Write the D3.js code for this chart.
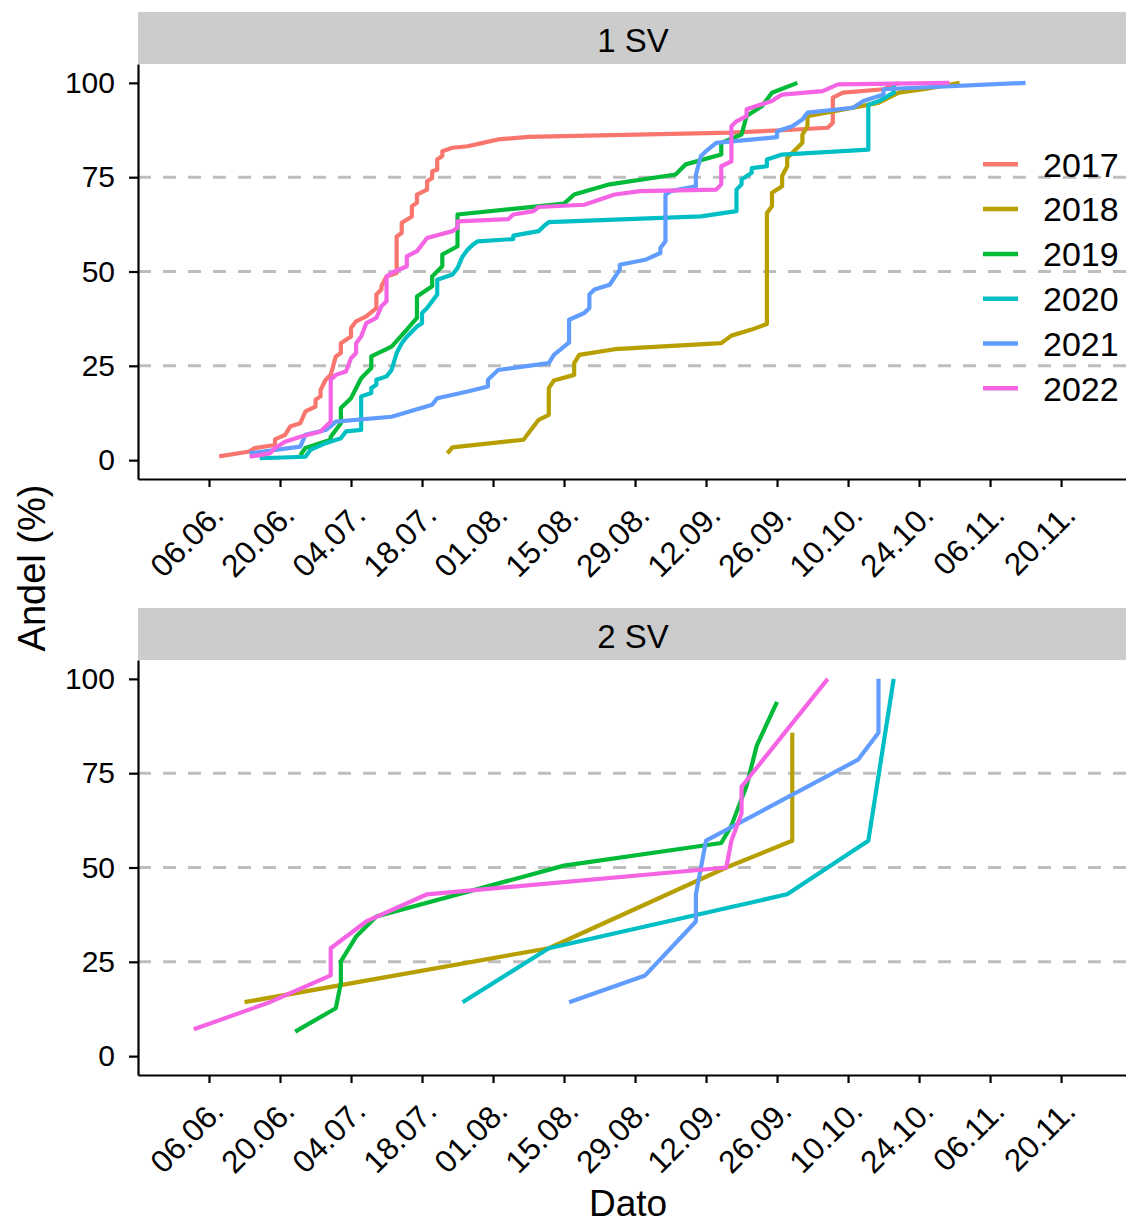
<!DOCTYPE html>
<html>
<head>
<meta charset="utf-8">
<script src="https://cdn.jsdelivr.net/npm/d3@7"></script>
<style>
  body { margin: 0; background: #fff; }
  svg { display: block; font-family: "Liberation Sans", Arial, Helvetica, sans-serif; }
</style>
</head>
<body>
<script>
// Data ---------------------------------------------------------------
const years = ['2017', '2018', '2019', '2020', '2021', '2022'];
const yearColors = ['#F8766D', '#B79F00', '#00BA38', '#00BFC4', '#619CFF', '#F564E3'];

// x ticks every 14 days from 06.06. (the last two are labelled after the DST shift)
const tickLabels = ['06.06.', '20.06.', '04.07.', '18.07.', '01.08.', '15.08.', '29.08.',
                    '12.09.', '26.09.', '10.10.', '24.10.', '06.11.', '20.11.'];
const yTicks = [0, 25, 50, 75, 100];
const gridValues = [25, 50, 75];
const facetLabels = ['1 SV', '2 SV'];

// cumulative share (%) by date, 1 SV
const sv1_2017 = [['08.06', 1.0], ['14.06', 2.3], ['15.06', 3.2], ['19.06', 4.0], ['19.06', 5.5],
  ['21.06', 6.7], ['22.06', 8.9], ['24.06', 9.8], ['25.06', 12.9], ['27.06', 14.2], ['27.06', 16.0],
  ['28.06', 16.9], ['28.06', 18.6], ['29.06', 21.3], ['30.06', 22.6], ['01.07', 27.5], ['02.07', 28.4],
  ['02.07', 31.0], ['04.07', 32.8], ['04.07', 35.0], ['05.07', 36.8], ['07.07', 38.1], ['09.07', 40.3],
  ['09.07', 43.9], ['10.07', 45.2], ['10.07', 46.1], ['11.07', 48.7], ['13.07', 49.6], ['13.07', 59.3],
  ['14.07', 60.2], ['14.07', 62.9], ['16.07', 64.6], ['16.07', 67.3], ['17.07', 68.2], ['17.07', 70.4],
  ['19.07', 71.7], ['19.07', 73.9], ['20.07', 74.8], ['20.07', 76.6], ['21.07', 77.0], ['21.07', 79.7],
  ['22.07', 80.6], ['22.07', 81.9], ['24.07', 82.8], ['27.07', 83.2], ['30.07', 84.1], ['02.08', 85.0],
  ['08.08', 85.7], ['17.09', 86.8], ['28.09', 87.5], ['06.10', 88.1], ['07.10', 89.4], ['07.10', 96.1],
  ['09.10', 97.4], ['17.10', 98.3], ['20.10', 100]];

const sv1_2018 = [['23.07', 1.8], ['24.07', 3.4], ['07.08', 5.4], ['10.08', 10.7], ['12.08', 12.0],
  ['12.08', 19.1], ['13.08', 21.1], ['17.08', 22.6], ['17.08', 25.7], ['18.08', 27.9], ['25.08', 29.4],
  ['15.09', 31.0], ['17.09', 33.0], ['21.09', 34.6], ['24.09', 36.1], ['24.09', 65.5], ['25.09', 67.3],
  ['25.09', 70.9], ['27.09', 72.6], ['27.09', 75.3], ['28.09', 77.9], ['28.09', 80.1], ['01.10', 84.1],
  ['01.10', 86.3], ['02.10', 88.5], ['02.10', 91.2], ['16.10', 94.7], ['20.10', 97.4], ['25.10', 98.3],
  ['01.11', 100]];

const sv1_2019 = [['24.06', 1.3], ['25.06', 3.2], ['30.06', 5.4], ['30.06', 6.2], ['02.07', 9.8],
  ['02.07', 13.8], ['04.07', 16.4], ['06.07', 21.7], ['08.07', 24.4], ['08.07', 27.5], ['12.07', 30.1],
  ['15.07', 34.6], ['17.07', 37.7], ['17.07', 43.4], ['20.07', 46.1], ['20.07', 48.7], ['22.07', 51.4],
  ['22.07', 54.5], ['25.07', 56.7], ['25.07', 65.1], ['15.08', 68.0], ['17.08', 70.4], ['24.08', 73.1],
  ['06.09', 75.7], ['08.09', 78.4], ['15.09', 81.0], ['15.09', 84.1], ['19.09', 86.3], ['20.09', 91.2],
  ['23.09', 93.8], ['25.09', 97.4], ['30.09', 100]];

const sv1_2020 = [['16.06', 0.5], ['25.06', 0.9], ['26.06', 2.7], ['29.06', 4.5], ['02.07', 5.8],
  ['03.07', 7.6], ['06.07', 8.0], ['06.07', 16.9], ['08.07', 17.8], ['08.07', 19.1], ['09.07', 20.0],
  ['09.07', 21.3], ['11.07', 22.2], ['12.07', 23.9], ['13.07', 28.4], ['14.07', 31.0], ['15.07', 32.7],
  ['17.07', 35.4], ['18.07', 36.3], ['18.07', 39.0], ['19.07', 40.3], ['20.07', 42.1], ['21.07', 43.9],
  ['21.07', 47.8], ['24.07', 49.2], ['25.07', 50.9], ['26.07', 54.0], ['27.07', 55.8], ['28.07', 57.1],
  ['29.07', 58.0], ['05.08', 58.6], ['05.08', 59.5], ['10.08', 60.7], ['11.08', 62.0], ['12.08', 63.1],
  ['11.09', 64.6], ['18.09', 66.0], ['18.09', 71.7], ['19.09', 73.1], ['19.09', 74.4], ['21.09', 76.2],
  ['21.09', 77.4], ['24.09', 77.9], ['24.09', 79.7], ['27.09', 81.0], ['14.10', 82.3], ['14.10', 94.2],
  ['16.10', 95.1], ['19.10', 97.4], ['19.10', 100]];

const sv1_2021 = [['14.06', 1.8], ['24.06', 3.6], ['25.06', 6.7], ['29.06', 8.0], ['30.06', 9.0],
  ['01.07', 10.2], ['12.07', 11.5], ['20.07', 14.7], ['21.07', 16.4], ['27.07', 18.2], ['31.07', 19.5],
  ['31.07', 21.3], ['02.08', 23.9], ['12.08', 25.7], ['13.08', 27.9], ['15.08', 30.1], ['16.08', 31.2],
  ['16.08', 37.2], ['19.08', 39.0], ['20.08', 40.3], ['20.08', 43.9], ['21.08', 45.2], ['24.08', 46.5],
  ['26.08', 50.5], ['26.08', 51.8], ['31.08', 53.1], ['03.09', 54.9], ['03.09', 56.2], ['04.09', 58.0],
  ['04.09', 70.4], ['05.09', 71.3], ['10.09', 72.6], ['10.09', 75.7], ['11.09', 80.6], ['12.09', 81.9],
  ['14.09', 84.1], ['26.09', 85.6], ['26.09', 87.2], ['29.09', 88.5], ['01.10', 90.3], ['02.10', 92.1],
  ['11.10', 93.4], ['13.10', 95.2], ['17.10', 96.9], ['17.10', 98.3], ['14.11', 100]];

const sv1_2022 = [['14.06', 0.9], ['18.06', 1.8], ['19.06', 3.2], ['21.06', 4.9], ['24.06', 6.2],
  ['28.06', 7.6], ['29.06', 8.9], ['30.06', 10.2], ['30.06', 21.3], ['01.07', 22.6], ['03.07', 23.5],
  ['04.07', 27.0], ['05.07', 28.4], ['05.07', 31.0], ['06.07', 32.8], ['07.07', 36.3], ['09.07', 37.7],
  ['10.07', 40.8], ['11.07', 42.1], ['11.07', 48.7], ['12.07', 49.6], ['15.07', 51.4], ['15.07', 54.0],
  ['17.07', 55.4], ['19.07', 58.9], ['24.07', 60.7], ['25.07', 61.6], ['25.07', 63.3], ['04.08', 63.9],
  ['05.08', 65.1], ['09.08', 66.0], ['10.08', 67.1], ['19.08', 67.7], ['25.08', 70.4], ['30.08', 71.3],
  ['14.09', 71.7], ['15.09', 73.1], ['15.09', 77.9], ['17.09', 79.2], ['17.09', 88.5], ['18.09', 89.8],
  ['20.09', 91.2], ['20.09', 93.0], ['25.09', 95.2], ['26.09', 96.1], ['27.09', 96.9], ['05.10', 97.8],
  ['08.10', 99.6], ['30.10', 100]];

// cumulative share (%) by date, 2 SV
const sv2_2018 = [['13.06', 14.3], ['12.08', 28.6], ['16.09', 50.0], ['29.09', 57.1], ['29.09', 85.7]];
const sv2_2019 = [['23.06', 6.5], ['01.07', 12.7], ['02.07', 19.4], ['02.07', 25.1], ['05.07', 31.7],
  ['09.07', 37.0], ['15.08', 50.5], ['15.09', 56.5], ['17.09', 61.1], ['20.09', 71.7], ['22.09', 82.3],
  ['26.09', 93.9]];
const sv2_2020 = [['26.07', 14.3], ['12.08', 28.6], ['28.09', 42.9], ['14.10', 57.1], ['19.10', 100]];
const sv2_2021 = [['16.08', 14.3], ['31.08', 21.4], ['10.09', 35.7], ['10.09', 42.9], ['12.09', 57.1],
  ['12.10', 78.6], ['16.10', 85.7], ['16.10', 100]];
const sv2_2022 = [['03.06', 7.1], ['18.06', 14.3], ['30.06', 21.4], ['30.06', 28.6], ['07.07', 35.7],
  ['19.07', 42.9], ['16.09', 50.0], ['17.09', 57.1], ['19.09', 64.3], ['19.09', 71.4], ['06.10', 100]];

const facetSeries = [
  {'2017': sv1_2017, '2018': sv1_2018, '2019': sv1_2019, '2020': sv1_2020, '2021': sv1_2021, '2022': sv1_2022},
  {'2018': sv2_2018, '2019': sv2_2019, '2020': sv2_2020, '2021': sv2_2021, '2022': sv2_2022}
];

// all seasons put on one calendar year
const parseDay = s => {
  const [d, m] = s.split('.').map(Number);
  return new Date(Date.UTC(2000, m - 1, d));
};

// Layout -------------------------------------------------------------
const width = 1126, height = 1224;
const panelLeft = 138, panelRight = 1127;
const stripH = 52;
const panelBoxes = [{top: 64, bottom: 479}, {top: 660, bottom: 1075}];

const svg = d3.select('body').append('svg')
  .attr('width', width)
  .attr('height', height)
  .attr('viewBox', `0 0 ${width} ${height}`);

// Scales --------------------------------------------------------------
const xScale = d3.scaleUtc()
  .domain([parseDay('23.05'), parseDay('04.12')])
  .range([panelLeft, panelRight]);

const firstTick = parseDay('06.06');
const tickDates = tickLabels.map((l, i) => d3.utcDay.offset(firstTick, 14 * i));

const colorScale = d3.scaleOrdinal().domain(years).range(yearColors);

const line = y => d3.line()
  .x(d => xScale(parseDay(d[0])))
  .y(d => y(d[1]));

panelBoxes.forEach((box, p) => {
  const yScale = d3.scaleLinear()
    .domain([-5, 105])
    .range([box.bottom, box.top]);

  // strip
  svg.append('rect')
    .attr('x', panelLeft)
    .attr('y', box.top - stripH)
    .attr('width', panelRight - panelLeft)
    .attr('height', stripH)
    .attr('fill', '#CCCCCC');

  svg.append('text')
    .attr('x', 633)
    .attr('y', box.top - stripH + 28)
    .attr('dy', '0.36em')
    .attr('text-anchor', 'middle')
    .attr('font-size', 33)
    .text(facetLabels[p]);

  // dashed grid
  svg.append('g')
    .selectAll('line')
    .data(gridValues)
    .enter()
    .append('line')
    .attr('x1', panelLeft)
    .attr('x2', panelRight)
    .attr('y1', d => yScale(d))
    .attr('y2', d => yScale(d))
    .attr('stroke', '#BEBEBE')
    .attr('stroke-width', 3)
    .attr('stroke-dasharray', '13 12');

  // lines
  const series = facetSeries[p];
  svg.append('g')
    .selectAll('path')
    .data(years.filter(yr => series[yr]))
    .enter()
    .append('path')
    .attr('d', yr => line(yScale)(series[yr]))
    .attr('fill', 'none')
    .attr('stroke', yr => colorScale(yr))
    .attr('stroke-width', 4.2)
    .attr('stroke-linejoin', 'round');

  // y axis
  const yAxis = svg.append('g')
    .attr('transform', `translate(${panelLeft}, 0)`)
    .call(d3.axisLeft(yScale)
      .tickValues(yTicks)
      .tickSize(9)
      .tickSizeOuter(0)
      .tickPadding(14));
  yAxis.selectAll('path, line').attr('stroke', '#000').attr('stroke-width', 2.2);
  yAxis.selectAll('text')
    .attr('font-size', 30)
    .attr('font-family', null)
    .attr('fill', '#000');

  // x axis
  const xAxis = svg.append('g')
    .attr('transform', `translate(0, ${box.bottom})`)
    .call(d3.axisBottom(xScale)
      .tickValues(tickDates)
      .tickFormat((d, i) => tickLabels[i])
      .tickSize(8)
      .tickSizeOuter(0));
  xAxis.selectAll('path, line').attr('stroke', '#000').attr('stroke-width', 2.2);
  xAxis.selectAll('text')
    .attr('font-size', 31.5)
    .attr('font-family', null)
    .attr('fill', '#000')
    .attr('y', null)
    .attr('dy', null)
    .attr('text-anchor', 'end')
    .attr('transform', 'translate(16, 38) rotate(-45)');
});

// Legend (inside top panel) --------------------------------------------
const legend = svg.append('g')
  .selectAll('g')
  .data(years)
  .enter()
  .append('g')
  .attr('transform', (d, i) => `translate(983, ${164.3 + i * 44.8})`);

legend.append('line')
  .attr('x1', 0)
  .attr('x2', 35)
  .attr('stroke', d => colorScale(d))
  .attr('stroke-width', 4.5);

legend.append('text')
  .attr('x', 60)
  .attr('dy', '0.36em')
  .attr('font-size', 34)
  .text(d => d);

// Axis titles ------------------------------------------------------------
svg.append('text')
  .attr('x', 628)
  .attr('y', 1216)
  .attr('text-anchor', 'middle')
  .attr('font-size', 37)
  .text('Dato');

svg.append('text')
  .attr('transform', 'translate(45, 568) rotate(-90)')
  .attr('text-anchor', 'middle')
  .attr('font-size', 38)
  .text('Andel (%)');
</script>
</body>
</html>
